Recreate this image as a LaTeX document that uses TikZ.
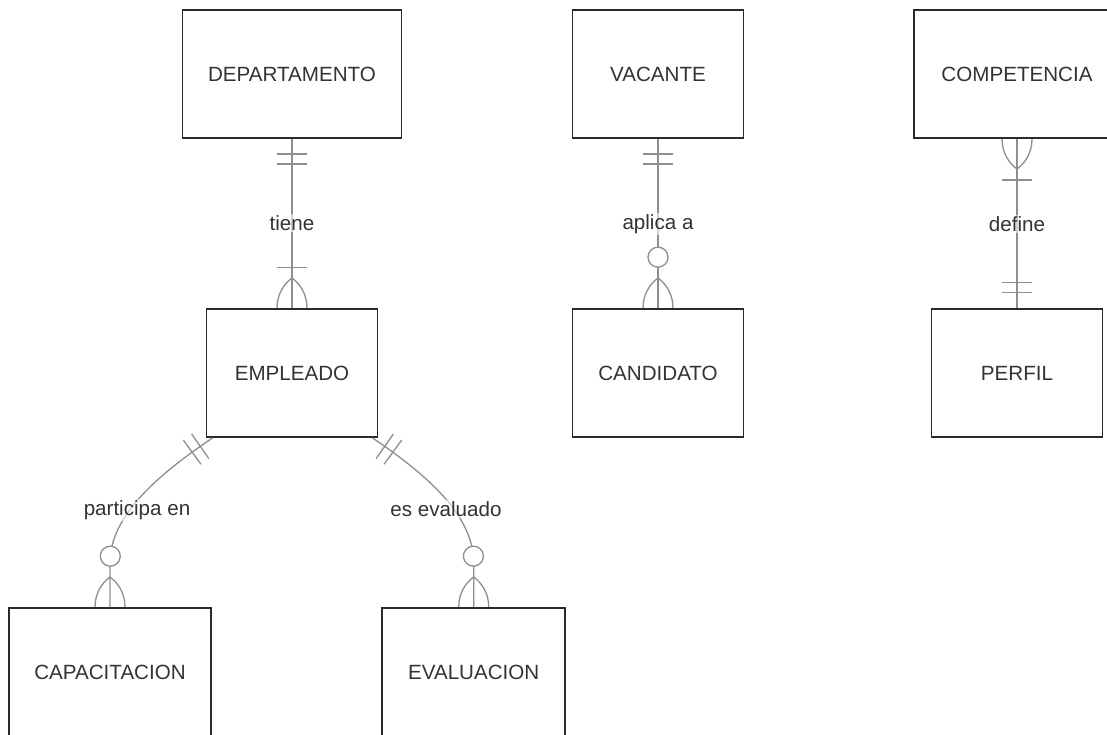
\documentclass[tikz,border=0pt]{standalone}
\usepackage{fontspec}
\setmainfont{Liberation Sans}
\usetikzlibrary{decorations.markings}
\definecolor{edgegray}{HTML}{8E8E8E}
\definecolor{boxline}{HTML}{2A2A2A}
\definecolor{ink}{HTML}{333333}

\tikzset{
  erfont/.style={font=\fontsize{20.6}{24}\selectfont},
  entity/.style={draw=boxline, line width=1.7pt, fill=white, minimum height=128pt,
                 inner sep=0pt, text=ink, erfont},
  rel/.style={draw=edgegray, line width=1.3pt},
  lbl/.style={fill=white, fill opacity=0.6, text opacity=1, text=ink, inner sep=1pt, erfont},
  mk/.style={draw=edgegray, line width=1.3pt},
  % exactly one, at the start of a relationship line
  oneA/.style={postaction={decorate, decoration={markings,
      mark=at position 15pt with {\draw[mk] (0pt,-15pt) -- (0pt,15pt);},
      mark=at position 25pt with {\draw[mk] (0pt,-15pt) -- (0pt,15pt);}}}},
  % exactly one, at the end
  oneB/.style={postaction={decorate, decoration={markings,
      mark=at position -26pt with {\draw[mk] (0pt,-15pt) -- (0pt,15pt);},
      mark=at position -16pt with {\draw[mk] (0pt,-15pt) -- (0pt,15pt);}}}},
  % one or many, at the end
  manyB/.style={postaction={decorate, decoration={markings,
      mark=at position -41pt with {\draw[mk] (0pt,-15pt) -- (0pt,15pt);},
      mark=at position -0.2pt with {\draw[mk] (0pt,15pt) .. controls (-14pt,15pt) and (-24pt,8pt) .. (-30pt,0pt)
                                      .. controls (-24pt,-8pt) and (-14pt,-15pt) .. (0pt,-15pt);}}}},
  % zero or many, at the end
  zmanyB/.style={postaction={decorate, decoration={markings,
      mark=at position -51pt with {\draw[mk, fill=white] (0pt,0pt) circle[radius=10pt];},
      mark=at position -0.2pt with {\draw[mk] (0pt,15pt) .. controls (-14pt,15pt) and (-24pt,8pt) .. (-30pt,0pt)
                                      .. controls (-24pt,-8pt) and (-14pt,-15pt) .. (0pt,-15pt);}}}},
  % one or many, at the start
  manyA/.style={postaction={decorate, decoration={markings,
      mark=at position 41pt with {\draw[mk] (0pt,-15pt) -- (0pt,15pt);},
      mark=at position 0.2pt with {\draw[mk] (0pt,15pt) .. controls (14pt,15pt) and (24pt,8pt) .. (30pt,0pt)
                                      .. controls (24pt,-8pt) and (14pt,-15pt) .. (0pt,-15pt);}}}}
}

\begin{document}
\begin{tikzpicture}[x=1pt, y=-1pt]
\useasboundingbox (0,0) rectangle (1107,734);
\clip (0,0) rectangle (1107,734);

% entities
\node[entity, minimum width=219pt] (dep) at (292,74)    {DEPARTAMENTO};
\node[entity, minimum width=171pt] (vac) at (658,74)    {VACANTE};
\node[entity, minimum width=206pt] (com) at (1017,74)   {COMPETENCIA};
\node[entity, minimum width=171pt] (emp) at (292,373)   {EMPLEADO};
\node[entity, minimum width=171pt] (can) at (658,373)   {CANDIDATO};
\node[entity, minimum width=171pt] (per) at (1017,373)  {PERFIL};
\node[entity, minimum width=202pt] (cap) at (110,672)   {CAPACITACION};
\node[entity, minimum width=183pt] (eva) at (473.7,672) {EVALUACION};

% free ends of the curved relationships on the bottom edge of EMPLEADO
\coordinate (empL) at ([xshift=7pt]emp.south west);
\coordinate (empR) at ([xshift=-6pt]emp.south east);

% relationships
\draw[rel, oneA, manyB]  (dep.south) -- (emp.north);
\draw[rel, oneA, zmanyB] (vac.south) -- (can.north);
\draw[rel, manyA, oneB]  (com.south) -- (per.north);
\draw[rel, oneA, zmanyB] (empL) .. controls (150,480) and (112,518) .. (110,560) -- (cap.north);
\draw[rel, oneA, zmanyB] (empR) .. controls (435,480) and (471.7,518) .. (473.7,560) -- (eva.north);

% relationship labels
\node[lbl] (l1) at (292,223)  {tiene};
\node[lbl] (l2) at (658,224)  {aplica a};
\node[lbl] (l3) at (1017,224) {define};
\node[lbl] (l4) at (137,510)  {participa en};
\node[lbl] (l5) at (446,509)  {es evaluado};
\end{tikzpicture}
\end{document}
